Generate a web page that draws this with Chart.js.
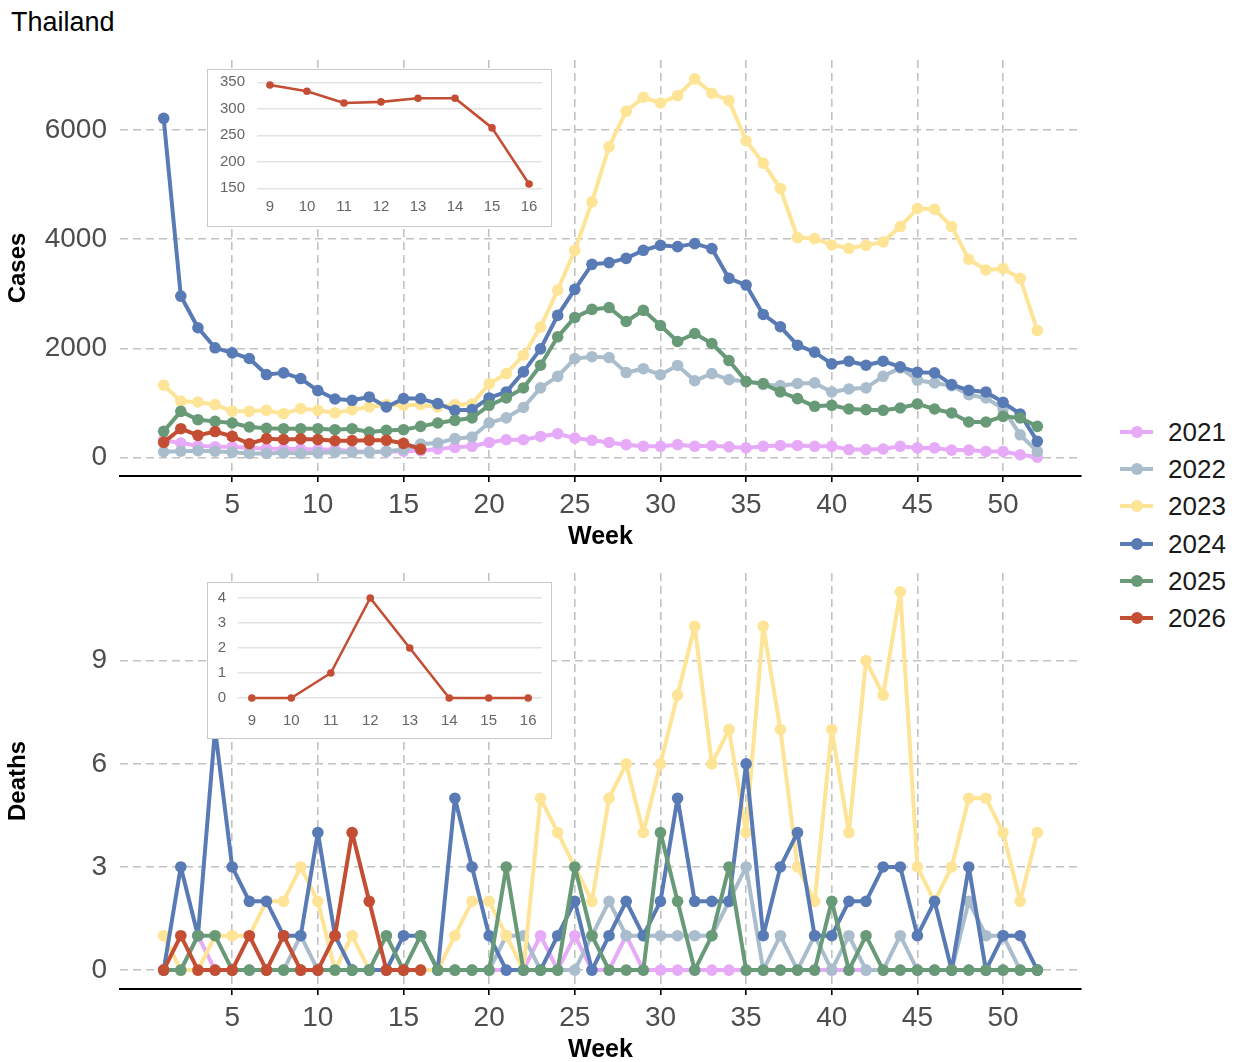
<!DOCTYPE html>
<html>
<head>
<meta charset="utf-8">
<script src="https://cdn.jsdelivr.net/npm/chart.js@4.4.1/dist/chart.umd.min.js"></script>
<style>
  body { margin: 0; width: 1239px; height: 1062px; overflow: hidden; background: #fff; position: relative;
         font-family: 'Liberation Sans', Arial, sans-serif; }
  #title { position: absolute; left: 11px; top: 7px; font-size: 27px; line-height: 30px; color: #000; }
  canvas { position: absolute; }
  .inset { position: absolute; background: #fff; border: 1px solid #c9c9c9; }
  .inset canvas { left: 0; top: 0; }
  .item { position: absolute; left: 1118px; height: 36px; width: 120px; }
  .item .ln { position: absolute; left: 2px; top: 16px; width: 33px; height: 4px; }
  .item .dot { position: absolute; left: 13px; top: 12px; width: 12px; height: 12px; border-radius: 50%; }
  .item .tx { position: absolute; left: 50px; top: 2px; font-size: 26px; line-height: 32px; color: #1a1a1a; }
</style>
</head>
<body>
<div id="title">Thailand</div>
<canvas id="cases" width="1090" height="560" style="left:0;top:0"></canvas>
<canvas id="deaths" width="1090" height="525" style="left:0;top:548px"></canvas>
<div class="inset" style="left:207px;top:69px;width:343px;height:156px"><canvas id="insetCases" width="343" height="156"></canvas></div>
<div class="inset" style="left:207px;top:582px;width:343px;height:155px"><canvas id="insetDeaths" width="343" height="155"></canvas></div>
<div id="legend"></div>
<script>
// semanas y series (lectura aproximada del gráfico)
var weeks = [1,2,3,4,5,6,7,8,9,10,11,12,13,14,15,16,17,18,19,20,21,22,23,24,25,26,
             27,28,29,30,31,32,33,34,35,36,37,38,39,40,41,42,43,44,45,46,47,48,49,50,51,52];
var weekTicks = [5,10,15,20,25,30,35,40,45,50];
var years = ['2021','2022','2023','2024','2025','2026'];
var colors = ['#e7aaf8','#aabdcc','#fee496','#587ab5','#689a78','#c44e34'];

var cases2021 = [320,270,220,200,200,180,170,160,160,150,150,120,110,110,120,130,160,190,210,280,330,330,390,440,360,320,
                 280,240,210,210,240,210,220,200,180,210,225,225,210,210,150,150,160,210,180,180,140,140,115,115,55,12];
var cases2022 = [110,120,130,120,100,80,80,90,80,90,100,100,100,120,150,250,270,350,380,640,730,920,1280,1490,1815,1850,
                 1835,1560,1630,1520,1690,1410,1540,1430,1400,1340,1320,1360,1370,1205,1260,1280,1490,1645,1420,1370,1320,1155,1095,900,420,115];
var cases2023 = [1327,1034,1021,972,850,850,869,807,899,869,820,881,930,972,960,972,930,972,985,1352,1541,1878,2391,3070,3798,4685,
                 5694,6342,6599,6495,6630,6936,6673,6538,5804,5394,4930,4031,4012,3896,3835,3890,3951,4233,4563,4550,4233,3633,3437,3462,3284,2330];
var cases2024 = [6214,2960,2380,2013,1921,1817,1523,1554,1450,1229,1076,1052,1113,930,1083,1083,991,869,881,1095,1205,1572,1994,2606,3083,3541,
                 3572,3651,3798,3890,3865,3920,3829,3284,3162,2624,2398,2061,1933,1719,1768,1694,1768,1664,1566,1554,1339,1235,1205,1015,801,300];
var cases2025 = [483,850,697,666,636,563,540,532,532,532,514,532,471,501,514,575,636,685,728,960,1095,1278,1694,2214,2569,2716,
                 2750,2495,2700,2420,2128,2275,2092,1780,1394,1358,1205,1083,942,960,893,881,869,911,985,893,820,655,655,758,728,575];
var cases2026 = [281,532,410,480,391,257,350,335,345,333,311,313,320,320,264,158];

var deaths2021 = [0,0,1,0,0,0,0,0,0,0,0,0,0,0,0,0,0,0,0,0,0,0,1,0,1,0,0,1,0,0,0,0,0,0,0,0,0,0,0,0,0,0,0,0,0,0,0,0,0,0,0,0];
var deaths2022 = [0,0,0,0,0,0,0,0,1,0,0,0,0,0,0,0,0,0,0,0,1,1,0,0,0,1,2,1,1,1,1,1,1,2,3,0,1,0,1,0,1,0,0,1,0,0,0,2,1,1,0,0];
var deaths2023 = [1,0,0,1,1,1,2,2,3,2,0,1,0,0,0,0,0,1,2,2,1,0,5,4,3,2,5,6,4,6,8,10,6,7,4,10,7,3,2,7,4,9,8,11,3,2,3,5,5,4,2,4];
var deaths2024 = [0,3,1,7,3,2,2,1,1,4,1,0,0,0,1,1,0,5,3,1,0,0,0,1,2,0,1,2,1,2,5,2,2,2,6,1,3,4,1,1,2,2,3,3,1,2,0,3,0,1,1,0];
var deaths2025 = [0,0,1,1,0,0,0,0,0,0,0,0,0,1,0,1,0,0,0,0,3,0,0,0,3,1,0,0,0,4,2,0,1,3,0,0,0,0,0,2,0,1,0,0,0,0,0,0,0,0,0,0];
var deaths2026 = [0,1,0,0,0,1,0,1,0,0,1,4,2,0,0,0];

var insetWeeks = [9,10,11,12,13,14,15,16];

var fam = "'Liberation Sans', Arial, sans-serif";
var gridGray = '#c2c2c2';
var clear = 'rgba(0,0,0,0)';

function series(vals) {
  return vals.map(function (v, j) { return {x: weeks[j], y: v}; });
}

function mainChart(id, padTop, allVals, yMin, yMax, yTicks, yTitle) {
  var ctx = document.getElementById(id).getContext('2d');
  return new Chart(ctx, {
    type: 'line',
    data: {
      datasets: years.map(function (yr, i) {
        return {
          label: yr,
          data: series(allVals[i]),
          borderColor: colors[i],
          backgroundColor: colors[i],
          pointBackgroundColor: colors[i],
          pointBorderWidth: 0,
          pointRadius: 5.8,
          borderWidth: 4,
          borderJoinStyle: 'round',
          borderCapStyle: 'round',
          tension: 0,
          order: years.length - i
        };
      })
    },
    options: {
      animation: false,
      responsive: false,
      devicePixelRatio: 1,
      layout: {padding: {top: padTop, right: 9, left: 0, bottom: 0}},
      plugins: {legend: {display: false}, tooltip: {enabled: false}},
      scales: {
        x: {
          type: 'linear', min: -1.55, max: 54.55,
          afterBuildTicks: function (s) { s.ticks = weekTicks.map(function (v) { return {value: v}; }); },
          afterFit: function (s) { s.height = 84; },
          grid: {color: gridGray, lineWidth: 1.6, drawTicks: true, tickLength: 6, tickColor: '#000', tickWidth: 1.6},
          border: {display: true, color: '#000', width: 2, dash: [8, 5]},
          ticks: {font: {size: 28, family: fam}, color: '#4d4d4d', padding: 6, maxRotation: 0},
          title: {display: true, text: 'Week', color: '#000', font: {size: 25, weight: 'bold', family: fam},
                  padding: {top: 0, bottom: 8}}
        },
        y: {
          min: yMin, max: yMax,
          afterBuildTicks: function (s) { s.ticks = yTicks.map(function (v) { return {value: v}; }); },
          afterFit: function (s) { s.width = 120; },
          grid: {color: gridGray, lineWidth: 1.6, drawTicks: true, tickLength: 13, tickColor: clear},
          border: {display: false, dash: [8, 5]},
          ticks: {font: {size: 28, family: fam}, color: '#4d4d4d', padding: 0,
                  callback: function (v) { return String(v); }},
          title: {display: true, text: yTitle, color: '#000', font: {size: 24, weight: 'bold', family: fam},
                  padding: {top: 4, bottom: 0}}
        }
      }
    }
  });
}

mainChart('cases', 60, [cases2021, cases2022, cases2023, cases2024, cases2025, cases2026],
          -334, 7282, [0, 2000, 4000, 6000], 'Cases');
mainChart('deaths', 25, [deaths2021, deaths2022, deaths2023, deaths2024, deaths2025, deaths2026],
          -0.55, 11.55, [0, 3, 6, 9], 'Deaths');

function insetChart(id, vals, yMin, yMax, step, labelEvery, yWidth, xHeight) {
  var ctx = document.getElementById(id).getContext('2d');
  var yt = [];
  for (var v = Math.ceil(yMin / step) * step; v <= yMax + 1e-9; v += step) yt.push(Math.round(v * 100) / 100);
  var isMajor = function (val) { return Math.abs(val % labelEvery) < 1e-6; };
  return new Chart(ctx, {
    type: 'line',
    data: {
      datasets: [{
        data: vals.map(function (v, j) { return {x: insetWeeks[j], y: v}; }),
        borderColor: colors[5], backgroundColor: colors[5], pointBackgroundColor: colors[5],
        pointBorderWidth: 0, pointRadius: 3.8, borderWidth: 2.6, tension: 0, borderJoinStyle: 'round'
      }]
    },
    options: {
      animation: false, responsive: false, devicePixelRatio: 1,
      layout: {padding: {top: 10, right: 9, left: 0, bottom: 0}},
      plugins: {legend: {display: false}, tooltip: {enabled: false}},
      scales: {
        x: {
          type: 'linear', min: 8.65, max: 16.35,
          afterBuildTicks: function (s) { s.ticks = insetWeeks.map(function (v) { return {value: v}; }); },
          afterFit: function (s) { s.height = xHeight; },
          grid: {display: false, drawTicks: false},
          border: {display: false},
          ticks: {font: {size: 15, family: fam}, color: '#666', padding: 9, maxRotation: 0}
        },
        y: {
          min: yMin, max: yMax,
          afterBuildTicks: function (s) { s.ticks = yt.map(function (v) { return {value: v}; }); },
          afterFit: function (s) { s.width = yWidth; },
          grid: {
            drawTicks: true, tickLength: 12, tickColor: clear,
            color: function (c) { return (c.tick && isMajor(c.tick.value)) ? '#e3e3e3' : '#efefef'; },
            lineWidth: function (c) { return (c.tick && isMajor(c.tick.value)) ? 1.4 : 1; }
          },
          border: {display: false},
          ticks: {
            font: {size: 15, family: fam}, color: '#666', padding: 0,
            callback: function (v) { return isMajor(v) ? String(v) : ''; }
          }
        }
      }
    }
  });
}

insetChart('insetCases', cases2026.slice(8, 16), 148.65, 354.35, 25, 50, 49, 37);
insetChart('insetDeaths', deaths2026.slice(8, 16), -0.2, 4.2, 0.5, 1, 30, 35);

// leyenda
var legend = document.getElementById('legend');
years.forEach(function (yr, i) {
  var d = document.createElement('div');
  d.className = 'item';
  d.style.top = (432 + i * 37.2 - 18) + 'px';
  d.innerHTML = '<div class="ln" style="background:' + colors[i] + '"></div>' +
                '<div class="dot" style="background:' + colors[i] + '"></div>' +
                '<div class="tx">' + yr + '</div>';
  legend.appendChild(d);
});
</script>
</body>
</html>
